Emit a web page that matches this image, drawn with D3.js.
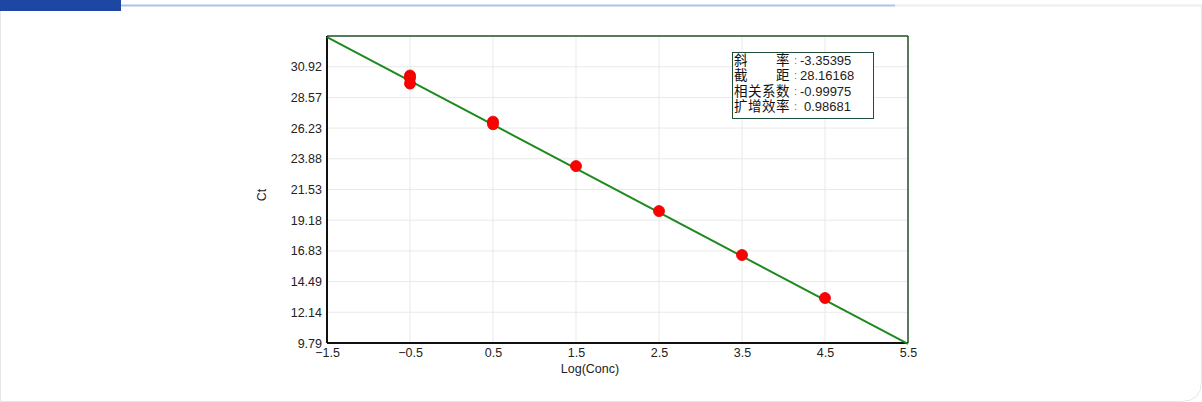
<!DOCTYPE html>
<html><head><meta charset="utf-8">
<script src="https://cdn.jsdelivr.net/npm/d3@7"></script>
<style>
html,body{margin:0;padding:0;background:#fff;}
svg{display:block;}
</style></head>
<body>
<svg id="c" width="1202" height="402"></svg>
<script>
// ---- data ----
const xTicks = [-1.5, -0.5, 0.5, 1.5, 2.5, 3.5, 4.5, 5.5];
const yTicks = [9.79, 12.14, 14.49, 16.83, 19.18, 21.53, 23.88, 26.23, 28.57, 30.92];
const yDomain = [9.79, 33.27];
const xDomain = [-1.5, 5.5];
const pointX = [-0.5, -0.5, -0.5, 0.5, 0.5, 1.5, 2.5, 3.5, 4.5];
const pointCt = [30.25, 30.05, 29.63, 26.72, 26.52, 23.32, 19.88, 16.52, 13.23];
const slope = -3.35395;
const intercept = 28.16168;
const statLabels = ["斜\u3000\u3000率", "截\u3000\u3000距", "相关系数", "扩增效率"];
const statValues = ["-3.35395", "28.16168", "-0.99975", "0.98681"];
const xTitle = "Log(Conc)";
const yTitle = "Ct";

const svg = d3.select("#c");

// card / header decoration
svg.append("path")
  .attr("d", "M0.5,10 L0.5,401.5 L1181.5,401.5 Q1201.5,401.5 1201.5,381.5 L1201.5,5")
  .attr("fill", "#fff").attr("stroke", "#e6e6e6").attr("stroke-width", 1);
svg.append("rect").attr("x", 0).attr("y", 0).attr("width", 121).attr("height", 11).attr("fill", "#1d47a3");
svg.append("line").attr("x1", 121).attr("x2", 895).attr("y1", 5.5).attr("y2", 5.5)
  .attr("stroke", "#a9c3ea").attr("stroke-width", 2);
svg.append("line").attr("x1", 895).attr("x2", 1202).attr("y1", 5.5).attr("y2", 5.5)
  .attr("stroke", "#eeeeee").attr("stroke-width", 2);

const L = 327, R = 908, T = 36, B = 343;
const x = d3.scaleLinear().domain(xDomain).range([L, R]);
const y = d3.scaleLinear().domain(yDomain).range([B, T]);

const fontFam = "'Liberation Sans', Arial, sans-serif";

// grid
const g = svg.append("g");
g.selectAll("line.vg").data(xTicks.slice(1, -1)).join("line")
  .attr("x1", d => x(d)).attr("x2", d => x(d)).attr("y1", T).attr("y2", B)
  .attr("stroke", "#e9e9e9").attr("stroke-width", 1);
g.selectAll("line.hg").data(yTicks.slice(1)).join("line")
  .attr("x1", L).attr("x2", R).attr("y1", d => y(d)).attr("y2", d => y(d))
  .attr("stroke", "#e9e9e9").attr("stroke-width", 1);

// frame top/right
svg.append("line").attr("x1", L).attr("x2", R).attr("y1", T).attr("y2", T).attr("stroke", "#1f4f24").attr("stroke-width", 1.5);
svg.append("line").attr("x1", R).attr("x2", R).attr("y1", T).attr("y2", B).attr("stroke", "#1f4f24").attr("stroke-width", 1.5);

// axes
const xAxis = d3.axisBottom(x).tickValues(xTicks).tickSize(0).tickPadding(5).tickFormat(d3.format(".1f"));
const yAxis = d3.axisLeft(y).tickValues(yTicks).tickSize(0).tickPadding(5).tickFormat(d3.format(".2f"));
const gx = svg.append("g").attr("transform", `translate(0,${B})`).call(xAxis);
const gy = svg.append("g").attr("transform", `translate(${L},0)`).call(yAxis);
[gx, gy].forEach(a => {
  a.select(".domain").attr("stroke", "#111").attr("stroke-width", 2);
  a.selectAll("text").attr("font-family", fontFam).attr("font-size", 12.5).attr("fill", "#222");
});
gy.select(".domain").attr("d", `M0,${T}V${B}`);
gx.select(".domain").attr("d", `M${L},0H${R}`);

// titles
svg.append("text").attr("x", 590).attr("y", 373).attr("text-anchor", "middle")
  .attr("font-family", fontFam).attr("font-size", 12.5).attr("fill", "#222").text(xTitle);
svg.append("text").attr("transform", "translate(266,195) rotate(-90)").attr("text-anchor", "middle")
  .attr("font-family", fontFam).attr("font-size", 12.5).attr("fill", "#222").text(yTitle);

// regression line
const line = d3.line().x(d => x(d)).y(d => y(slope * d + intercept));
svg.append("path").datum(xDomain).attr("d", line)
  .attr("fill", "none").attr("stroke", "#1e8a1e").attr("stroke-width", 2);

// points
svg.selectAll("circle.pt").data(pointX.map((v, i) => [v, pointCt[i]])).join("circle")
  .attr("cx", d => x(d[0])).attr("cy", d => y(d[1])).attr("r", 5.5)
  .attr("fill", "#ff0000").attr("stroke", "#e00000").attr("stroke-width", 0.8);

// stats box
const bx = 732, by = 52, bw = 141, bh = 66;
svg.append("rect").attr("x", bx + 0.5).attr("y", by + 0.5).attr("width", bw).attr("height", bh)
  .attr("fill", "#fff").attr("stroke", "#1f4f38").attr("stroke-width", 1);
const rowY = i => by + 13 + i * 15.3;
statLabels.forEach((s, i) => {
  const t = svg.append("text").attr("font-family", "'Liberation Sans', 'Noto Sans CJK SC', sans-serif")
    .attr("font-size", 13.5).attr("fill", "#111");
  Array.from(s).forEach((ch, k) => {
    if (ch === "\u3000") return;
    t.append("tspan").attr("x", bx + 2 + k * 14).attr("y", rowY(i)).text(ch);
  });
  svg.append("text").attr("x", bx + 62).attr("y", rowY(i) - 1)
    .attr("font-family", fontFam).attr("font-size", 11).attr("fill", "#777").text(":");
  const v = statValues[i];
  svg.append("text").attr("x", bx + 68 + (v[0] === "-" || i === 1 ? 0 : 4)).attr("y", rowY(i))
    .attr("font-family", fontFam).attr("font-size", 13).attr("fill", "#222").text(v);
});
</script>
</body></html>
